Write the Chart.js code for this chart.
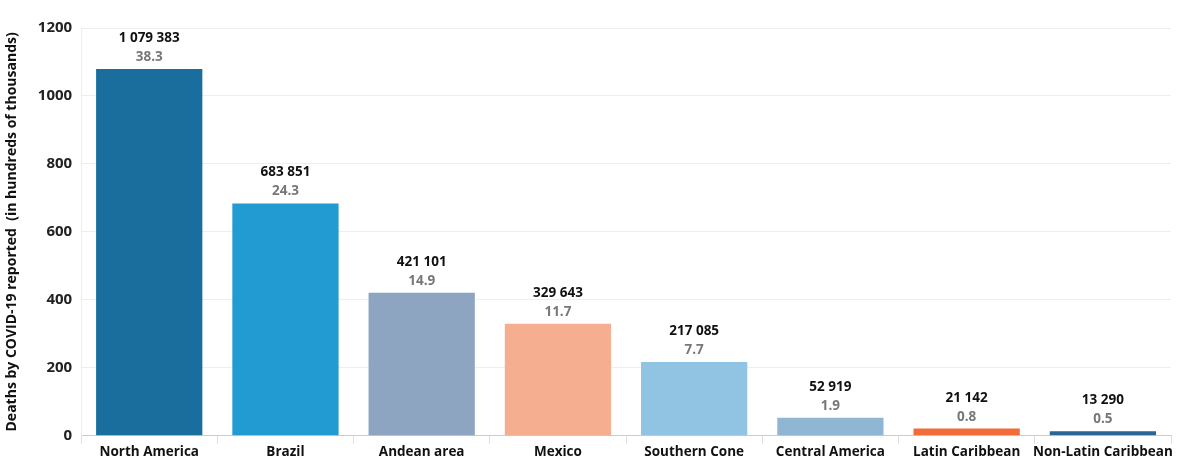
<!DOCTYPE html>
<html>
<head>
<meta charset="utf-8">
<script src="https://cdn.jsdelivr.net/npm/chart.js@4.4.0/dist/chart.umd.min.js"></script>
<style>
  html, body { margin: 0; padding: 0; background: #fff; }
  #wrap { width: 1185px; height: 460px; position: relative; }
</style>
</head>
<body>
<div id="wrap"><canvas id="deathsChart"></canvas></div>
<script>
// --- data
var regions = ['North America', 'Brazil', 'Andean area', 'Mexico', 'Southern Cone', 'Central America', 'Latin Caribbean', 'Non-Latin Caribbean'];
var deaths = [1079383, 683851, 421101, 329643, 217085, 52919, 21142, 13290];
var shares = ['38.3', '24.3', '14.9', '11.7', '7.7', '1.9', '0.8', '0.5'];
var barColors = ['#1a6e9e', '#229ad2', '#8da5c1', '#f5ae90', '#91c3e2', '#8fb7d4', '#f26c3a', '#2a6598'];
var yTicks = [0, 200, 400, 600, 800, 1000, 1200];

// bar height is in thousands
var deathsK = deaths.map(function (d) { return d / 1000; });

function spaced(n) {
    return String(n).replace(/\B(?=(\d{3})+(?!\d))/g, ' ');
}

// labels above the bars: count (black) + share (grey)
var topLabels = {
    id: 'topLabels',
    afterDatasetsDraw: function (chart) {
        var ctx = chart.ctx;
        var meta = chart.getDatasetMeta(0);
        ctx.save();
        ctx.textAlign = 'center';
        ctx.textBaseline = 'alphabetic';
        meta.data.forEach(function (bar, i) {
            ctx.font = 'bold 13.5px "Open Sans"';
            ctx.fillStyle = '#111';
            ctx.fillText(spaced(deaths[i]), bar.x, bar.y - 27);
            ctx.fillStyle = '#777';
            ctx.fillText(shares[i], bar.x, bar.y - 8);
        });
        ctx.restore();
    }
};

var ctx = document.getElementById('deathsChart');
new Chart(ctx, {
    type: 'bar',
    data: {
        labels: regions,
        datasets: [{
            data: deathsK,
            backgroundColor: barColors,
            barPercentage: 0.78,
            categoryPercentage: 1
        }]
    },
    options: {
        responsive: true,
        maintainAspectRatio: false,
        animation: false,
        layout: { padding: { top: 28, right: 14, left: 0, bottom: 0 } },
        plugins: {
            legend: { display: false },
            tooltip: { enabled: false }
        },
        scales: {
            x: {
                grid: { drawOnChartArea: false, tickLength: 8, color: '#ddd', offset: true },
                border: { color: '#ccc', dash: [2, 2] },
                ticks: { color: '#111', font: { family: 'Open Sans', weight: 'bold', size: 13.5 }, maxRotation: 0, autoSkip: false, padding: 0 }
            },
            y: {
                min: 0,
                max: 1200,
                afterBuildTicks: function (axis) {
                    axis.ticks = yTicks.map(function (v) { return { value: v }; });
                },
                grid: { color: '#eeeeee', drawTicks: false },
                border: { display: true, color: '#eeeeee' },
                ticks: {
                    color: '#222',
                    font: { family: 'Open Sans', weight: 'bold', size: 15 },
                    padding: 9,
                    callback: function (v) { return String(v); }
                },
                title: {
                    display: true,
                    text: 'Deaths by COVID-19 reported  (in hundreds of thousands)',
                    color: '#111',
                    font: { family: 'Open Sans', weight: 'bold', size: 14 },
                    padding: { top: 4, bottom: 8 }
                }
            }
        }
    },
    plugins: [topLabels]
});
</script>
</body>
</html>
